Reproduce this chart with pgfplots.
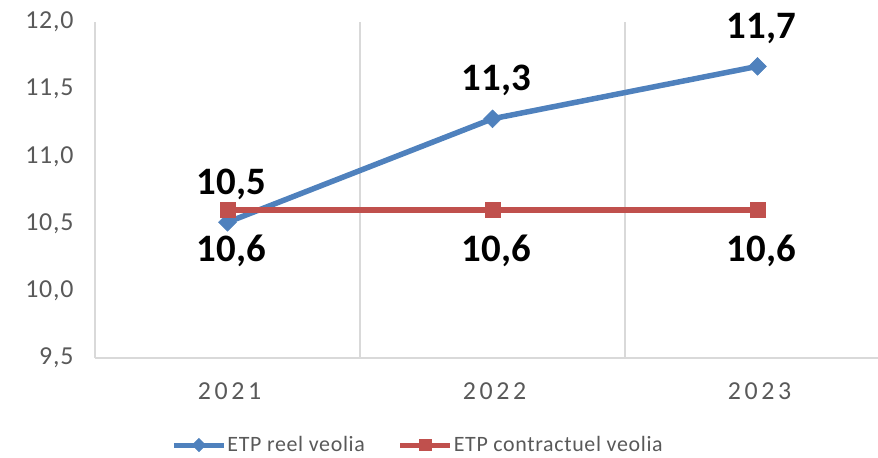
\documentclass[border=0pt]{standalone}
\usepackage{fontspec}
\setmainfont{Carlito}
\usepackage{pgfplots}
\pgfplotsset{compat=1.18}
\definecolor{blueS}{HTML}{4F81BD}
\definecolor{redS}{HTML}{C0504D}
\definecolor{tickgray}{HTML}{595959}
\definecolor{gridgray}{HTML}{D9D9D9}
\begin{document}
\begin{tikzpicture}
\path[use as bounding box] (-95bp,-100bp) rectangle (783bp,358bp);
\begin{axis}[
  at={(0,0)}, anchor=south west,
  scale only axis, width=783bp, height=336bp,
  xmin=-0.5, xmax=2.4547, ymin=9.5, ymax=12,
  axis x line=bottom, axis y line=left,
  axis line style={draw=gridgray, line width=1.2bp, -},
  xtick={0,1,2}, xticklabels={2021,2022,2023},
  ytick={9.5,10,10.5,11,11.5,12},
  extra x ticks={0.5,1.5}, extra x tick labels={},
  extra x tick style={grid=major, major grid style={draw=gridgray, line width=1.2bp}},
  major tick length=0pt,
  /pgf/number format/assume math mode=true,
  yticklabel style={/pgf/number format/fixed, /pgf/number format/fixed zerofill, /pgf/number format/precision=1, /pgf/number format/use comma,
    font=\fontsize{26}{26}\selectfont\addfontfeatures{LetterSpace=3}, text=tickgray, xshift=-18bp},
  xticklabel style={font=\fontsize{26}{26}\selectfont\addfontfeatures{LetterSpace=14}, text=tickgray, yshift=-21bp, xshift=2bp},
  clip=false,
  legend columns=2,
  legend style={at={(0.412,-0.259)}, anchor=center, draw=none, fill=none,
    font=\fontsize{22}{22}\selectfont\addfontfeatures{LetterSpace=3}, text=tickgray,
    nodes={inner xsep=1bp},
    /tikz/every even column/.append style={column sep=32bp}},
  legend image code/.code={
    \draw[#1, line width=5bp, mark repeat=2, mark phase=2, every mark/.append style={scale=0.75}] plot coordinates {(0bp,0bp) (25bp,0bp) (50bp,0bp)};
  },
]
\addplot[blueS, line width=5.5bp, mark=square*, mark size=6.3bp,
  mark options={solid, rotate=45, line width=0.5bp},
  nodes near coords, point meta=explicit symbolic,
  every node near coord/.style={font=\bfseries\fontsize{39}{39}\selectfont, text=black, anchor=center, yshift=38bp, xshift=4bp}]
  table[x=x, y=y, meta=lab] {
x y lab
0 10.51 10,5
1 11.28 11,3
2 11.67 11,7
};
\addlegendentry{ETP reel veolia}
\addplot[redS, line width=5.5bp, mark=square*, mark size=7.5bp,
  mark options={solid, line width=0.5bp},
  nodes near coords, point meta=explicit symbolic,
  every node near coord/.style={font=\bfseries\fontsize{39}{39}\selectfont, text=black, anchor=center, yshift=-41bp, xshift=4bp}]
  table[x=x, y=y, meta=lab] {
x y lab
0 10.6 10,6
1 10.6 10,6
2 10.6 10,6
};
\addlegendentry{ETP contractuel veolia}
\end{axis}
\end{tikzpicture}
\end{document}
